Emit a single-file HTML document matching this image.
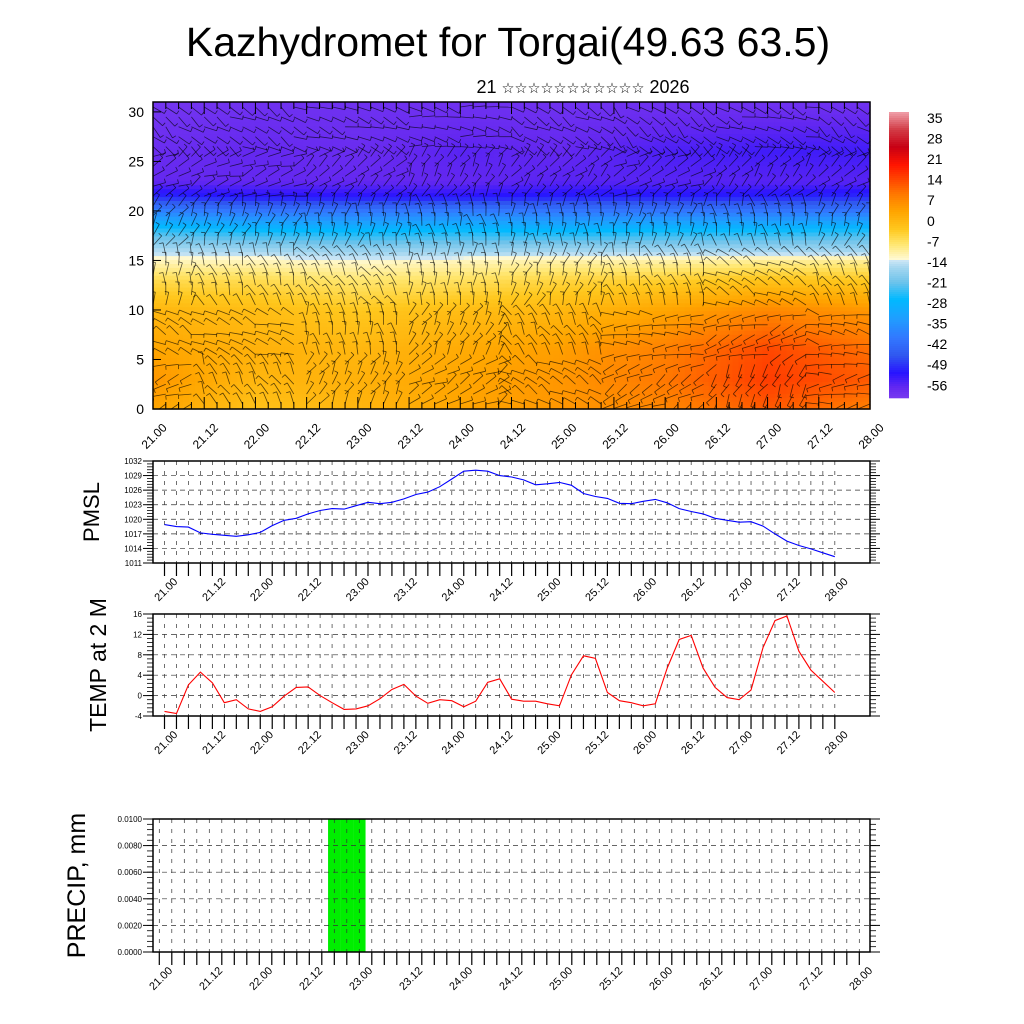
<!DOCTYPE html>
<html><head><meta charset="utf-8">
<style>
html,body{margin:0;padding:0;background:#fff;}
svg{display:block;font-family:"Liberation Sans","DejaVu Sans",sans-serif;}
</style></head>
<body>
<svg id="chart" width="1024" height="1024" viewBox="0 0 1024 1024" xmlns="http://www.w3.org/2000/svg">
<defs><clipPath id="hclip"><rect x="153" y="102" width="717" height="307"/></clipPath></defs>
<text x="508" y="56" font-size="41" text-anchor="middle">Kazhydromet for Torgai(49.63 63.5)</text>
<text x="583" y="93" font-size="18" text-anchor="middle">21 <tspan font-size="14.5">☆☆☆☆☆☆☆☆☆☆☆</tspan> 2026</text>
<g id="heat"></g>
<g id="cbar"></g>
<g id="pmsl"></g>
<g id="temp"></g>
<g id="precip"></g>
</svg>
<script>
// ---- data ----
const timeLabels = ["21.00","21.12","22.00","22.12","23.00","23.12","24.00","24.12","25.00","25.12","26.00","26.12","27.00","27.12","28.00"];
const pmslTicks = [1011,1014,1017,1020,1023,1026,1029,1032];
const pmslValues = [1018.9,1018.5,1018.4,1017.2,1016.9,1016.7,1016.5,1016.8,1017.3,1018.7,1019.8,1020.2,1021.1,1021.8,1022.2,1022.1,1022.8,1023.5,1023.2,1023.5,1024.2,1025.1,1025.6,1026.7,1028.3,1029.9,1030.1,1029.9,1029.0,1028.7,1028.1,1027.1,1027.3,1027.6,1027.0,1025.3,1024.7,1024.3,1023.3,1023.2,1023.7,1024.1,1023.4,1022.2,1021.6,1021.1,1020.2,1019.8,1019.4,1019.5,1018.6,1017.0,1015.5,1014.6,1013.9,1013.1,1012.3];
const tempTicks = [-4,0,4,8,12,16];
const tempValues = [-3.1,-3.5,2.1,4.6,2.5,-1.4,-0.8,-2.6,-3.1,-2.2,-0.1,1.6,1.7,0.0,-1.4,-2.7,-2.6,-2.0,-0.6,1.2,2.2,-0.1,-1.5,-0.8,-1.0,-2.2,-1.1,2.6,3.3,-0.7,-1.1,-1.1,-1.6,-2.0,4.1,7.8,7.3,0.6,-1.0,-1.4,-2.0,-1.6,5.4,11.0,11.8,5.4,1.6,-0.4,-0.8,1.1,9.4,14.7,15.6,8.7,5.0,2.8,0.6];
const precipTicks = ["0.0000","0.0020","0.0040","0.0060","0.0080","0.0100"];
const precipValues = [0,0,0,0,0,0,0,0,0,0,0,0,0,0,0.01,0.01,0.01,0,0,0,0,0,0,0,0,0,0,0,0,0,0,0,0,0,0,0,0,0,0,0,0,0,0,0,0,0,0,0,0,0,0,0,0,0,0,0,0];
const heatLevels = [0,3,6,10,13,15,16,18,20,21.5,23,26,31];
const heatDays = [21,22,23,24,25,26,27,28];
const heatField = [
 [3,5,3,0,-6,-12,-15,-24,-38,-50,-57,-58,-60],
 [-2,0,1,-1,-6,-12,-16,-26,-40,-52,-57,-57,-59],
 [0,1,0,-3,-8,-13,-17,-27,-40,-52,-57,-58,-59],
 [3,3,2,-1,-7,-12,-17,-26,-39,-52,-57,-56,-59],
 [5,5,4,0,-5,-11,-16,-27,-40,-51,-56,-57,-59],
 [7,9,8,3,-4,-11,-16,-26,-40,-51,-56,-55,-59],
 [12,15,14,7,-2,-10,-16,-26,-40,-51,-56,-54,-59],
 [8,12,10,5,-3,-10,-16,-25,-40,-50,-56,-54,-59]];
const cbarLabels = [35,28,21,14,7,0,-7,-14,-21,-28,-35,-42,-49,-56];
const windDirs = [
 [200,150,90,60,30,320],[120,160,110,70,20,330],[60,100,120,80,40,340],[30,60,90,100,60,350],
 [150,120,70,90,45,330],[210,180,110,80,30,320],[240,200,150,100,50,340],[190,170,120,70,40,320]];

const NS="http://www.w3.org/2000/svg";
function mk(parent,tag,attrs){const e=document.createElementNS(NS,tag);for(const k in attrs)e.setAttribute(k,attrs[k]);parent.appendChild(e);return e;}

const cstops=[[-62,[128,64,240]],[-57,[100,40,240]],[-52,[40,20,255]],[-46,[48,88,240]],[-40,[50,120,255]],[-33,[30,160,255]],[-27,[0,185,255]],[-21,[110,195,235]],[-16,[165,215,240]],[-13.6,[205,230,245]],[-13.4,[255,250,215]],[-8,[255,230,110]],[-3,[255,200,30]],[3,[255,165,0]],[9,[255,120,0]],[14,[255,70,0]],[19,[255,20,0]],[25,[200,0,20]],[31,[210,60,70]],[37,[240,160,170]]];
function cmap(v){if(v<=cstops[0][0])return rgb(cstops[0][1]);for(let i=1;i<cstops.length;i++){if(v<=cstops[i][0]){const a=cstops[i-1],b=cstops[i],t=(v-a[0])/(b[0]-a[0]);return rgb(a[1].map((c,j)=>c+(b[1][j]-c)*t));}}return rgb(cstops[cstops.length-1][1]);}
function rgb(c){return "rgb("+c.map(x=>Math.round(x)).join(",")+")";}

// ---- heatmap ----
const HX0=153,HX1=870,HY0=102,HY1=409;
const hx=d=>HX0+(d-21)/7*(HX1-HX0);
const hy=l=>HY1-l/31*(HY1-HY0);
function field(d,l){
 let i=Math.min(heatDays.length-2,Math.max(0,Math.floor(d-21)));let td=(d-heatDays[i])/(heatDays[i+1]-heatDays[i]);td=Math.max(0,Math.min(1,td));
 let j=0;while(j<heatLevels.length-2&&l>heatLevels[j+1])j++;let tl=(l-heatLevels[j])/(heatLevels[j+1]-heatLevels[j]);tl=Math.max(0,Math.min(1,tl));
 const a=heatField[i][j]*(1-tl)+heatField[i][j+1]*tl,b=heatField[i+1][j]*(1-tl)+heatField[i+1][j+1]*tl;return a*(1-td)+b*td;}
const heat=document.getElementById('heat');
const nx=120,ny=78;
for(let a=0;a<nx;a++){for(let b=0;b<ny;b++){
 const d0=21+7*a/nx,d1=21+7*(a+1)/nx,l0=31*b/ny,l1=31*(b+1)/ny;
 const r=mk(heat,'rect',{x:hx(d0).toFixed(2),y:hy(l1).toFixed(2),width:(hx(d1)-hx(d0)+0.6).toFixed(2),height:(hy(l0)-hy(l1)+0.6).toFixed(2),fill:cmap(field((d0+d1)/2,(l0+l1)/2))});
 
 
}}
const barbs=mk(heat,'g',{stroke:'#000','stroke-opacity':'0.65','stroke-width':'0.8',fill:'none','clip-path':'url(#hclip)'});


for(let a=0;a<57;a++){for(let b=0;b<31;b++){
 const d=21+a*7/56,l=b+0.5;
 const di=Math.min(7,Math.round(d-21)),li=Math.min(5,Math.floor(l/5.2));
 const ang=(windDirs[di][li]+((a*37+b*53)%40)-20)*Math.PI/180;
 const x=hx(d),y=hy(l),L=13;
 const x2=x+L*Math.cos(ang),y2=y-L*Math.sin(ang);
 mk(barbs,'line',{x1:x.toFixed(1),y1:y.toFixed(1),x2:x2.toFixed(1),y2:y2.toFixed(1)});
 mk(barbs,'line',{x1:x2.toFixed(1),y1:y2.toFixed(1),x2:(x2+4*Math.cos(ang+1.57)).toFixed(1),y2:(y2-4*Math.sin(ang+1.57)).toFixed(1)});
}}
mk(heat,'rect',{x:HX0,y:HY0,width:HX1-HX0,height:HY1-HY0,fill:'none',stroke:'#000','stroke-width':'1.5'});
for(let v=0;v<=30;v+=5){
 const t=mk(heat,'text',{x:144,y:hy(v)+5,'font-size':14,'text-anchor':'end'});t.textContent=v;
 
 
 mk(heat,'line',{x1:HX0,y1:hy(v),x2:HX0+8,y2:hy(v),stroke:'#000'});
}
for(let i=0;i<=56;i++){const x=hx(21+i*7/56);mk(heat,'line',{x1:x,y1:HY1,x2:x,y2:HY1-(i%4==0?12:7),stroke:'#000'});mk(heat,'line',{x1:x,y1:HY0,x2:x,y2:HY0+(i%4==0?12:7),stroke:'#000'});}
timeLabels.forEach((s,k)=>{const x=hx(21+k*0.5)+4,y=HY1+30;const t=mk(heat,'text',{x:x,y:y,'font-size':12,'text-anchor':'middle',transform:`rotate(-45 ${x} ${y})`});t.textContent=s;
 
 });

// ---- colorbar ----
const cb=document.getElementById('cbar');
const CB0=112,CB1=398,cbv=y=>37-(y-CB0)/(CB1-CB0)*97.5;
for(let y=CB0;y<CB1;y+=2){mk(cb,'rect',{x:889,y:y,width:20,height:2.3,fill:cmap(cbv(y+1))});}
cbarLabels.forEach((v,k)=>{const t=mk(cb,'text',{x:927,y:123+k*20.56,'font-size':14});t.textContent=v;
 
 });

// ---- line panels ----
function panel(gid,top,bot,ticks,vmin,vmax,vals,color,title,titleX,lblFmt,fs,x0,step,minorN){
 const g=document.getElementById(gid);
 const L=153,R=870;
 const ys=v=>bot-(v-vmin)/(vmax-vmin)*(bot-top);
 const xs=i=>x0+i*step;
 for(let i=0;i<57;i++){mk(g,'line',{x1:xs(i),y1:top,x2:xs(i),y2:bot,stroke:'#333','stroke-width':0.7,'stroke-dasharray':'4 6'});}
 ticks.forEach(tv=>{const v=parseFloat(tv);const y=ys(v);
  mk(g,'line',{x1:L,y1:y,x2:R,y2:y,stroke:'#333','stroke-width':0.7,'stroke-dasharray':'5 4'});
  mk(g,'line',{x1:L-10,y1:y,x2:L,y2:y,stroke:'#000'});mk(g,'line',{x1:R,y1:y,x2:R+10,y2:y,stroke:'#000'});
  const t=mk(g,'text',{x:L-11,y:y+3,'font-size':fs,'text-anchor':'end'});t.textContent=lblFmt(tv);
  
  
 });
 const dv=(vmax-vmin)/(ticks.length-1)/(minorN+1);
 for(let v=vmin;v<=vmax+1e-9;v+=dv){const y=ys(v);mk(g,'line',{x1:L-6,y1:y,x2:L,y2:y,stroke:'#000','stroke-width':0.8});mk(g,'line',{x1:R,y1:y,x2:R+6,y2:y,stroke:'#000','stroke-width':0.8});}
 for(let i=0;i<57;i++){mk(g,'line',{x1:xs(i),y1:bot,x2:xs(i),y2:bot+13,stroke:'#000','stroke-width':1.2});}
 timeLabels.forEach((s,k)=>{const x=xs(k*4)+4,y=bot+29;const t=mk(g,'text',{x:x,y:y,'font-size':11,'text-anchor':'middle',transform:`rotate(-45 ${x} ${y})`});t.textContent=s;
  
  });
 const tx=titleX,ty=(top+bot)/2;const tt=mk(g,'text',{x:tx,y:ty,'font-size':title[1],'text-anchor':'middle',transform:`rotate(-90 ${tx} ${ty})`});tt.textContent=title[0];
 
 
 if(vals){const p=mk(g,'polyline',{points:vals.map((v,i)=>xs(i).toFixed(1)+','+ys(v).toFixed(1)).join(' '),fill:'none',stroke:color,'stroke-width':1.1});
  
  }
 mk(g,'rect',{x:L,y:top,width:R-L,height:bot-top,fill:'none',stroke:'#000','stroke-width':1.5});
 return {g,xs,ys};
}
panel('pmsl',461,563,pmslTicks,1011,1032,pmslValues,'#0000ff',['PMSL',22],99,v=>v,8,164.5,11.97,4);
panel('temp',614,716,tempTicks,-4,16,tempValues,'#ff0000',['TEMP at 2 M',23],106,v=>v,8,164.5,11.97,4);
const pp=panel('precip',819,952,precipTicks,0,0.01,null,'',['PRECIP, mm',25],85,v=>v,8,159.3,12.5,4);
precipValues.forEach((v,i)=>{if(v>0){const b=mk(pp.g,'rect',{x:pp.xs(i-0.5),y:pp.ys(v),width:pp.xs(i+0.5)-pp.xs(i-0.5),height:pp.ys(0)-pp.ys(v),fill:'#00ee00'});
 
 
 pp.g.insertBefore(b,pp.g.firstChild);}});
</script>
</body></html>
